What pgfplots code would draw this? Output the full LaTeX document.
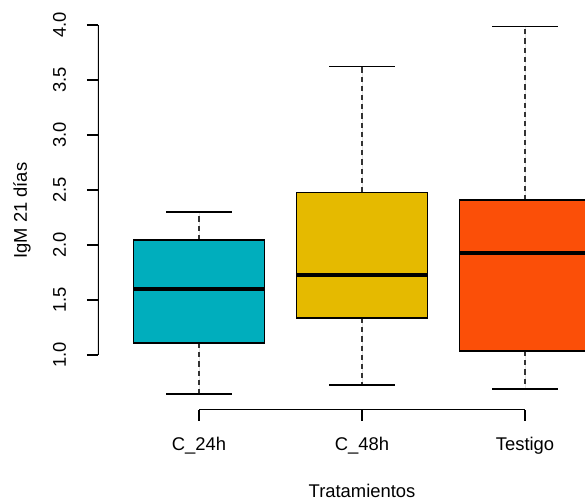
\documentclass[border=0pt]{standalone}
\usepackage{pgfplots}
\pgfplotsset{compat=1.18}
\usepgfplotslibrary{statistics}
\usepackage{fontspec}
\setmainfont{Liberation Sans}
\definecolor{cteal}{RGB}{0,174,189}
\definecolor{cgold}{RGB}{229,186,0}
\definecolor{corange}{RGB}{251,79,8}
\begin{document}
\begin{tikzpicture}
\begin{axis}[
  at={(0,0)}, anchor=south west,
  scale only axis, width=243.5pt, height=199.3pt,
  xmin=0.38, xmax=3.368, ymin=0.5, ymax=4.124,
  axis lines*=left, axis line style={draw=none},
  tick align=outside, major tick length=5.5pt,
  tick style={black, line width=0.6pt},
  xtick={1,2,3}, xticklabels={C\_24h, C\_48h, Testigo},
  ytick={1,1.5,2,2.5,3,3.5,4},
  font=\fontsize{9.2}{11}\selectfont,
  xticklabel style={anchor=base, yshift=-15pt},
  yticklabel style={/pgf/number format/fixed, /pgf/number format/fixed zerofill,
    /pgf/number format/precision=1, /pgf/number format/assume math mode=true,
    rotate=90, anchor=base, yshift=10.5pt},
  xlabel={Tratamientos}, ylabel={IgM 21 días},
  every axis x label/.style={at={(rel axis cs:0.5422,-0.2183)}, anchor=base},
  every axis y label/.style={at={(rel axis cs:-0.1458,0.5)}, rotate=90, anchor=base},
  boxplot/draw direction=y,
  boxplot/box extend=0.8,
  boxplot/whisker extend=0.4,
  boxplot/every median/.style={line width=2pt, black},
  boxplot/every box/.style={draw=black, line width=0.6pt},
  boxplot/every whisker/.style={black, line width=0.6pt},
  boxplot/draw/lower whisker/.code={%
    \draw[/pgfplots/boxplot/every whisker/.try, black!80, dash pattern=on 2.6pt off 2pt]
      (boxplot box cs:\pgfplotsboxplotvalue{lower quartile},0.5) --
      (boxplot box cs:\pgfplotsboxplotvalue{lower whisker},0.5);
    \draw[/pgfplots/boxplot/every whisker/.try]
      (boxplot whisker cs:\pgfplotsboxplotvalue{lower whisker},0) --
      (boxplot whisker cs:\pgfplotsboxplotvalue{lower whisker},1);
  },
  boxplot/draw/upper whisker/.code={%
    \draw[/pgfplots/boxplot/every whisker/.try, black!80, dash pattern=on 2.6pt off 2pt]
      (boxplot box cs:\pgfplotsboxplotvalue{upper quartile},0.5) --
      (boxplot box cs:\pgfplotsboxplotvalue{upper whisker},0.5);
    \draw[/pgfplots/boxplot/every whisker/.try]
      (boxplot whisker cs:\pgfplotsboxplotvalue{upper whisker},0) --
      (boxplot whisker cs:\pgfplotsboxplotvalue{upper whisker},1);
  },
]
\addplot[fill=cteal, draw=black, line width=0.6pt,
  boxplot prepared={draw position=1, lower whisker=0.645, lower quartile=1.11,
    median=1.60, upper quartile=2.045, upper whisker=2.30}] coordinates {};
\addplot[fill=cgold, draw=black, line width=0.6pt,
  boxplot prepared={draw position=2, lower whisker=0.727, lower quartile=1.336,
    median=1.727, upper quartile=2.48, upper whisker=3.62}] coordinates {};
\addplot[fill=corange, draw=black, line width=0.6pt,
  boxplot prepared={draw position=3, lower whisker=0.69, lower quartile=1.036,
    median=1.93, upper quartile=2.41, upper whisker=3.99}] coordinates {};
\draw[black, line width=0.6pt] (axis cs:1,0.5) -- (axis cs:3,0.5);
\draw[black, line width=0.6pt] (axis cs:0.38,1) -- (axis cs:0.38,4);
\end{axis}
\pgfresetboundingbox
\path[use as bounding box] (-49pt,-46pt) rectangle (243.5pt,205pt);
\end{tikzpicture}
\end{document}
